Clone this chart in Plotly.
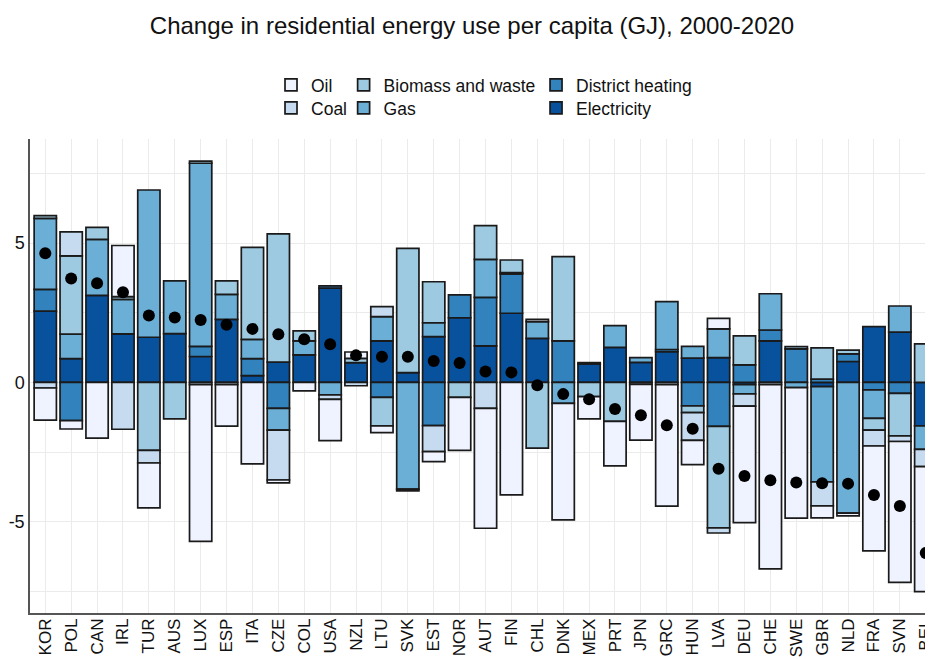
import plotly.graph_objects as go

countries = ["KOR","POL","CAN","IRL","TUR","AUS","LUX","ESP","ITA","CZE","COL","USA","NZL","LTU","SVK",
             "EST","NOR","AUT","FIN","CHL","DNK","MEX","PRT","JPN","GRC","HUN","LVA","DEU","CHE","SWE",
             "GBR","NLD","FRA","SVN","BEL"]

oil = [-1.15,-0.30,-2.00,1.83,-1.61,0,-5.62,-1.49,-2.92,-0.10,-0.30,-1.48,0.23,-0.24,-0.06,
       -0.36,-1.90,-4.30,-4.03,0.08,-4.18,-0.80,-1.59,-2.00,-4.36,-0.87,0.38,-4.18,-6.61,-4.68,
       -0.43,-0.10,-3.76,-5.05,-4.48]
coal = [-0.20,0.86,0,-1.68,-0.45,0,-0.08,-0.08,0,-1.79,0,-0.16,-0.12,0.36,0,
        -0.93,0,-0.93,0,0,0,0,0,-0.07,-0.08,-1.00,-0.18,-0.44,-0.08,0,
        -0.86,0,-0.57,-0.20,-0.62]
biomass = [0.10,2.81,0.43,0.10,-2.44,-1.31,0.08,0.48,3.30,4.60,0.36,0,0.15,-1.02,4.46,
           1.47,-0.54,1.21,0.45,-2.36,3.02,-0.51,-1.40,0,0,-0.24,-3.64,1.04,0,0.08,
           1.12,0.14,-0.42,-1.53,1.38]
gas = [2.54,0.88,2.01,1.24,5.28,1.89,6.57,0.90,0.69,-0.78,0.50,-0.45,0,0.87,-3.83,
       0.50,0,1.36,0.05,0.60,-0.75,0,0.78,0.17,1.72,0.42,1.03,-0.33,1.30,-0.19,
       -3.42,-4.69,-1.02,0.94,-0.84]
district_heating = [0.78,-1.37,0,0,0,0,0.36,0,0.61,-0.93,0,0.08,0,-0.54,0,
                    -1.55,0.82,1.74,1.41,0,1.49,0.05,0,0,0.08,-0.84,-1.58,0.63,0.39,1.20,
                    0.12,0.27,-0.27,-0.39,0]
electricity = [2.56,0.85,3.12,1.74,1.62,1.75,0.93,2.26,0.24,0.73,0.99,3.38,0.71,1.49,0.35,
               1.64,2.32,1.31,2.48,1.58,0,0.66,1.26,0.72,1.10,0.87,0.89,-0.08,1.49,0,
               -0.15,0.75,2.00,1.80,-1.56]

y_ticks = [-7.5, -5, -2.5, 0, 2.5, 5, 7.5]
y_tick_labels = ["", "-5", "", "0", "", "5", ""]

FONT = "Liberation Sans, Arial, sans-serif"

# stacking order: first trace is closest to zero; each series gets its own legend box
series = [
    ("Electricity", electricity, "#08519c", "legend6"),
    ("District heating", district_heating, "#3182bd", "legend5"),
    ("Gas", gas, "#6baed6", "legend4"),
    ("Biomass and waste", biomass, "#9ecae1", "legend3"),
    ("Coal", coal, "#c6dbef", "legend2"),
    ("Oil", oil, "#eff3ff", "legend"),
]

fig = go.Figure()
for name, vals, color, leg in series:
    fig.add_trace(go.Bar(
        x=countries, y=[v if v != 0 else None for v in vals], name=name,
        marker=dict(color=color, line=dict(color="#1a1a1a", width=1.7)),
        width=0.86, legend=leg,
    ))

net = [round(sum(t), 3) for t in zip(oil, coal, biomass, gas, district_heating, electricity)]
fig.add_trace(go.Scatter(
    x=countries, y=net, mode="markers", showlegend=False,
    marker=dict(color="black", size=12),
))

def leg(x, y):
    return dict(x=x, y=y, orientation="v", yanchor="middle", xanchor="left",
                font=dict(family=FONT, size=17.5, color="#111"),
                bgcolor="rgba(0,0,0,0)", borderwidth=0)

row1, row2 = 1.1139, 1.0654
col1, col2, col3 = 0.2669, 0.3473, 0.5604

# the page body has an 8px default margin; the figure runs slightly past the window's right edge
# so that the last bar and its label are cut by the window, as in the reference
fig.update_layout(
    barmode="relative",
    width=945, height=651,
    margin=dict(l=22, r=20, t=131, b=46, autoexpand=False),
    paper_bgcolor="white", plot_bgcolor="white",
    font=dict(family=FONT, color="#111"),
    title=dict(text="Change in residential energy use per capita (GJ), 2000-2020",
               x=0.491, xanchor="center", y=0.973, yanchor="middle",
               font=dict(family=FONT, size=24, color="#111")),
    legend=leg(col1, row1),
    legend2=leg(col1, row2),
    legend3=leg(col2, row1),
    legend4=leg(col2, row2),
    legend5=leg(col3, row1),
    legend6=leg(col3, row2),
    xaxis=dict(
        type="category", range=[-0.59, 34.28], automargin=False,
        showgrid=True, gridcolor="#ebebeb", gridwidth=1.3,
        tickangle=-90, tickfont=dict(family=FONT, size=17, color="#111"),
        ticklabelstandoff=-3, ticklabeloverflow="allow",
        showline=True, linecolor="#555", linewidth=1.5,
        ticks="", fixedrange=True,
    ),
    yaxis=dict(
        range=[-8.27, 8.73], automargin=False,
        tickvals=y_ticks, ticktext=y_tick_labels,
        showgrid=True, gridcolor="#ebebeb", gridwidth=1.3,
        zeroline=False,
        tickfont=dict(family=FONT, size=18, color="#111"),
        showline=True, linecolor="#555", linewidth=1.5,
        ticks="",
    ),
    bargap=0.14,
)

fig.write_html("out.html")
